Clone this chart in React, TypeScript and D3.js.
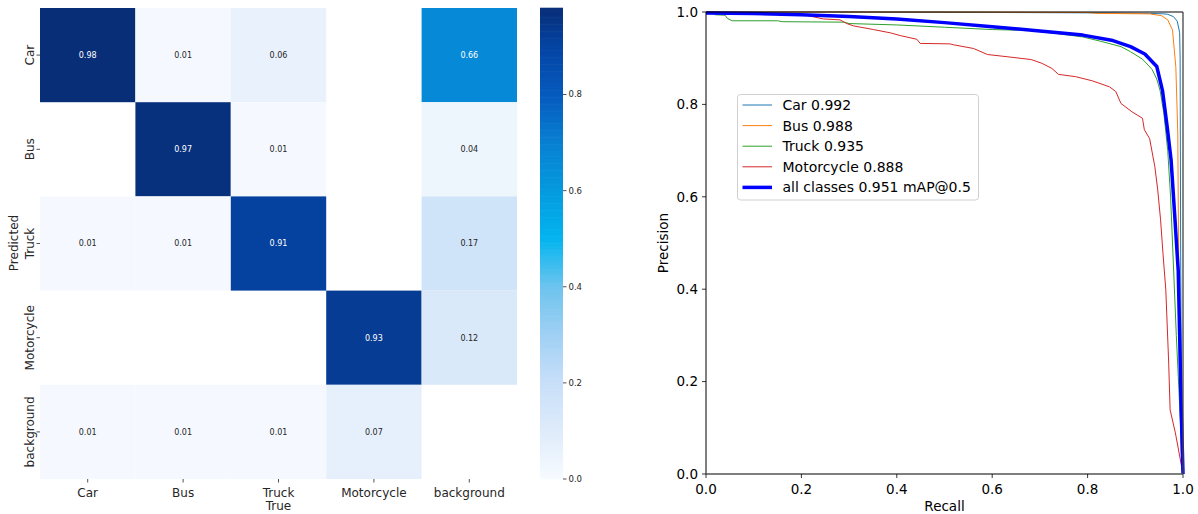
import React from "react";
import * as d3 from "d3";

// ---------- Confusion matrix data ----------
const classes = ["Car", "Bus", "Truck", "Motorcycle", "background"];
const rowCar = [0.98, 0.01, 0.06, null, 0.66];
const rowBus = [null, 0.97, 0.01, null, 0.04];
const rowTruck = [0.01, 0.01, 0.91, null, 0.17];
const rowMotorcycle = [null, null, null, 0.93, 0.12];
const rowBackground = [0.01, 0.01, 0.01, 0.07, null];
const matrix = [rowCar, rowBus, rowTruck, rowMotorcycle, rowBackground];
const colorbarTicks = [0, 0.2, 0.4, 0.6, 0.8];

// ---------- PR curve data ----------
const carRecall = [0, 0.3, 0.6, 0.85, 0.93, 0.96, 0.968, 0.98, 0.988, 0.993, 0.994, 0.995, 0.997, 1.0];
const carPrecision = [1.0, 1.0, 0.999, 0.998, 0.997, 0.996, 0.995, 0.99, 0.98, 0.955, 0.9, 0.5, 0.1, 0];

const busRecall = [0, 0.5, 0.8, 0.82, 0.93, 0.955, 0.968, 0.978, 0.985, 0.989, 0.991, 0.993, 0.996, 1.0];
const busPrecision = [1.0, 1.0, 0.999, 0.997, 0.996, 0.992, 0.983, 0.961, 0.88, 0.74, 0.45, 0.2, 0.05, 0];

const truckRecall = [0, 0.012, 0.02, 0.04, 0.045, 0.055, 0.15, 0.16, 0.29, 0.3, 0.4, 0.5, 0.6, 0.68, 0.73, 0.79, 0.83, 0.87, 0.89, 0.915, 0.935, 0.945, 0.952, 0.96, 0.968, 0.974, 0.98, 0.986, 0.992, 0.996, 1.0];
const truckPrecision = [1.0, 0.998, 0.994, 0.993, 0.986, 0.981, 0.981, 0.979, 0.978, 0.975, 0.972, 0.967, 0.962, 0.96, 0.954, 0.946, 0.936, 0.925, 0.914, 0.898, 0.876, 0.855, 0.83, 0.78, 0.7, 0.6, 0.45, 0.3, 0.17, 0.08, 0];

const motoRecall = [0, 0.2, 0.246, 0.281, 0.295, 0.309, 0.351, 0.386, 0.407, 0.442, 0.449, 0.512, 0.519, 0.561, 0.59, 0.633, 0.682, 0.704, 0.725, 0.739, 0.775, 0.81, 0.846, 0.859, 0.87, 0.893, 0.915, 0.919, 0.93, 0.941, 0.947, 0.953, 0.958, 0.964, 0.97, 0.973, 0.984, 1.0];
const motoPrecision = [1.0, 0.995, 0.985, 0.983, 0.975, 0.97, 0.962, 0.955, 0.949, 0.941, 0.932, 0.931, 0.929, 0.921, 0.908, 0.903, 0.897, 0.889, 0.878, 0.865, 0.86, 0.851, 0.838, 0.828, 0.802, 0.784, 0.77, 0.745, 0.726, 0.665, 0.615, 0.55, 0.478, 0.398, 0.24, 0.139, 0.089, 0];

const allRecall = [0, 0.1, 0.2, 0.3, 0.4, 0.5, 0.6, 0.7, 0.79, 0.85, 0.89, 0.92, 0.945, 0.957, 0.967, 0.975, 0.982, 0.99, 0.993, 0.996, 1.0];
const allPrecision = [0.998, 0.997, 0.994, 0.99, 0.985, 0.977, 0.968, 0.959, 0.95, 0.939, 0.925, 0.909, 0.882, 0.83, 0.75, 0.68, 0.57, 0.44, 0.3, 0.15, 0];

const prTicks = [0, 0.2, 0.4, 0.6, 0.8, 1.0];
const legendLabels = ["Car 0.992", "Bus 0.988", "Truck 0.935", "Motorcycle 0.888", "all classes 0.951 mAP@0.5"];

// ---------- styles ----------
const seriesColors = ["#1f77b4", "#ff7f0e", "#2ca02c", "#d62728", "#0000ff"];
const seriesWidths = [1, 1, 1, 1, 3.5];
const cmapStops = [0, 0.1, 0.2, 0.3, 0.4, 0.5, 0.6, 0.7, 0.8, 0.9, 0.98];
const cmapColors = ["#f7fbff", "#deebfa", "#c8dff9", "#a0d0f4", "#6cc4ee", "#03b5ef", "#049ade", "#0880d2", "#055abd", "#0444a3", "#082e78"];
const FONT = "DejaVu Sans, sans-serif";

export default function App() {
  const series = [
    [carRecall, carPrecision],
    [busRecall, busPrecision],
    [truckRecall, truckPrecision],
    [motoRecall, motoPrecision],
    [allRecall, allPrecision],
  ];

  // heatmap scales
  const hx = d3.scaleBand<string>().domain(classes).range([40, 517]);
  const hy = d3.scaleBand<string>().domain(classes).range([8, 479]);
  const cmap = d3.scaleLinear<string>().domain(cmapStops).range(cmapColors).interpolate(d3.interpolateRgb).clamp(true);
  const cb = d3.scaleLinear().domain([0, 0.98]).range([479, 8]);
  const cbStrips = d3.range(0, 0.98, 0.98 / 200);

  // PR scales
  const px = d3.scaleLinear().domain([0, 1]).range([706, 1183]);
  const py = d3.scaleLinear().domain([0, 1]).range([474, 12]);
  const line = d3.line<[number, number]>().x((d) => px(d[0])).y((d) => py(d[1]));

  return (
    <svg width={1198} height={514} style={{ position: "absolute", left: 0, top: 0, background: "#fff" }} fontFamily={FONT}>
      {/* Heatmap cells */}
      {matrix.map((row, ri) =>
        row.map((v, ci) =>
          v === null ? null : (
            <g key={`c${ri}-${ci}`}>
              <rect
                x={hx(classes[ci])}
                y={hy(classes[ri])}
                width={hx.bandwidth()}
                height={hy.bandwidth()}
                fill={cmap(v)}
              />
              <text
                x={(hx(classes[ci]) as number) + hx.bandwidth() / 2}
                y={(hy(classes[ri]) as number) + hy.bandwidth() / 2}
                dy="0.35em"
                textAnchor="middle"
                fontSize={8}
                fill={v > 0.5 ? "#ffffff" : "#262626"}
              >
                {v.toFixed(2)}
              </text>
            </g>
          )
        )
      )}
      {/* heatmap y ticks */}
      {classes.map((c) => {
        const yc = (hy(c) as number) + hy.bandwidth() / 2;
        return (
          <g key={`yt${c}`}>
            <line x1={36.5} x2={40} y1={yc} y2={yc} stroke="#262626" strokeWidth={0.8} />
            <text transform={`translate(34,${yc}) rotate(-90)`} textAnchor="middle" fontSize={12} fill="#262626">
              {c}
            </text>
          </g>
        );
      })}
      <text transform={`translate(18,243) rotate(-90)`} textAnchor="middle" fontSize={12} fill="#262626">
        Predicted
      </text>
      {/* heatmap x ticks */}
      {classes.map((c) => {
        const xc = (hx(c) as number) + hx.bandwidth() / 2;
        return (
          <g key={`xt${c}`}>
            <line x1={xc} x2={xc} y1={479} y2={482.5} stroke="#262626" strokeWidth={0.8} />
            <text x={xc} y={497} textAnchor="middle" fontSize={12} fill="#262626">
              {c}
            </text>
          </g>
        );
      })}
      <text x={278.5} y={510} textAnchor="middle" fontSize={12} fill="#262626">
        True
      </text>

      {/* colorbar */}
      {cbStrips.map((v, i) => (
        <rect key={`cb${i}`} x={540} width={23} y={cb(v + 0.98 / 200) - 0.3} height={cb(v) - cb(v + 0.98 / 200) + 0.6} fill={cmap(v + 0.98 / 400)} />
      ))}
      {colorbarTicks.map((t) => (
        <g key={`cbt${t}`}>
          <line x1={563} x2={566.5} y1={cb(t)} y2={cb(t)} stroke="#262626" strokeWidth={0.8} />
          <text x={568.5} y={cb(t)} dy="0.35em" fontSize={8.5} fill="#262626">
            {t.toFixed(1)}
          </text>
        </g>
      ))}

      {/* PR curves */}
      <g>
        {series.map(([r, p], i) => (
          <path
            key={`s${i}`}
            d={line(r.map((rv, k) => [rv, p[k]] as [number, number])) as string}
            fill="none"
            stroke={seriesColors[i]}
            strokeWidth={seriesWidths[i]}
            strokeLinejoin="round"
          />
        ))}
      </g>
      {/* PR axes frame */}
      <line x1={706} x2={1183} y1={12} y2={12} stroke="#000" strokeWidth={1} />
      <line x1={706} x2={706} y1={12} y2={474} stroke="#000" strokeWidth={1} />
      <line x1={1183} x2={1183} y1={12} y2={474} stroke="#444" strokeWidth={1.3} />
      <line x1={706} x2={1183} y1={474} y2={474} stroke="#555" strokeWidth={1.6} />
      {prTicks.map((t) => (
        <g key={`pxt${t}`}>
          <line x1={px(t)} x2={px(t)} y1={474} y2={478} stroke="#000" strokeWidth={0.8} />
          <text x={px(t)} y={494} textAnchor="middle" fontSize={13.5} fill="#000">
            {t.toFixed(1)}
          </text>
          <line x1={702} x2={706} y1={py(t)} y2={py(t)} stroke="#000" strokeWidth={0.8} />
          <text x={698} y={py(t)} dy="0.36em" textAnchor="end" fontSize={13.5} fill="#000">
            {t.toFixed(1)}
          </text>
        </g>
      ))}
      <text x={944.5} y={511} textAnchor="middle" fontSize={13.5} fill="#000">
        Recall
      </text>
      <text transform={`translate(668,243) rotate(-90)`} textAnchor="middle" fontSize={13.5} fill="#000">
        Precision
      </text>

      {/* legend */}
      <rect x={737.5} y={94.5} width={241} height={105.5} rx={3} fill="#ffffff" fillOpacity={0.8} stroke="#d0d0d0" strokeWidth={1} />
      {legendLabels.map((lab, i) => {
        const yy = 105 + i * 20.6;
        return (
          <g key={`lg${i}`}>
            <line x1={742.5} x2={772} y1={yy} y2={yy} stroke={seriesColors[i]} strokeWidth={seriesWidths[i]} />
            <text x={782.5} y={yy} dy="0.36em" fontSize={14} fill="#000">
              {lab}
            </text>
          </g>
        );
      })}
    </svg>
  );
}
